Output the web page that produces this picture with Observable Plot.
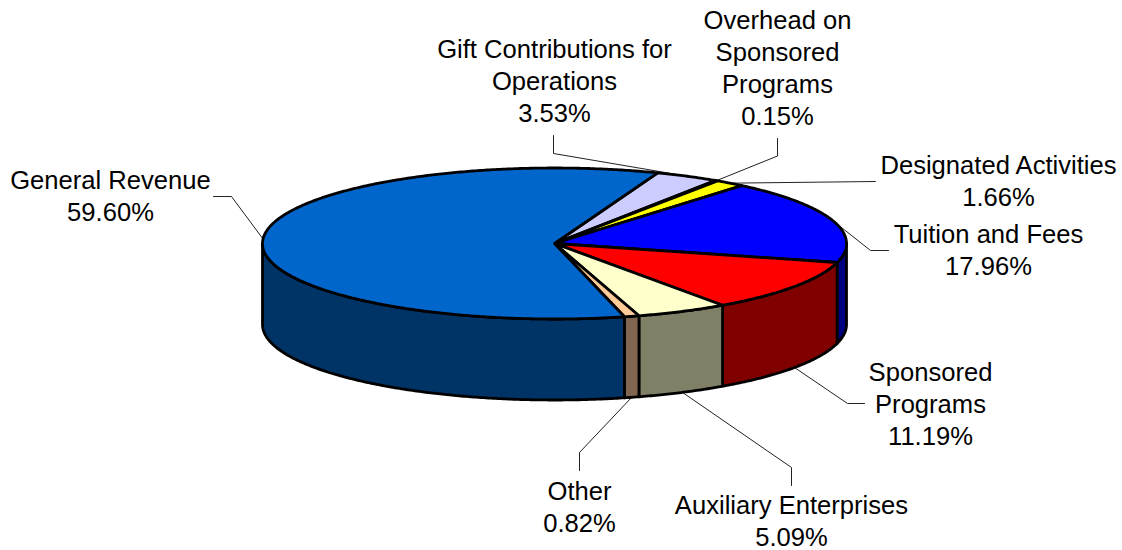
<!DOCTYPE html>
<html><head><meta charset="utf-8">
<script src="https://cdn.jsdelivr.net/npm/d3@7"></script>
<script src="https://cdn.jsdelivr.net/npm/@observablehq/plot@0.6"></script>
<style>html,body{margin:0;padding:0;background:#fff}svg{display:block}</style>
</head><body><div id="chart"></div>
<script>
// Data, clockwise from the first slice
const categories = ["Gift Contributions for\nOperations","Overhead on\nSponsored\nPrograms","Designated Activities","Tuition and Fees","Sponsored\nPrograms","Auxiliary Enterprises","Other","General Revenue"];
const shares = [3.53,0.15,1.66,17.96,11.19,5.09,0.82,59.60];
const topColors = ["#CCCCFF","#000000","#FFFF00","#0000FF","#FF0000","#FFFFCC","#FFCC99","#0066CC"];
const sideColors = ["#666680","#000000","#808000","#000080","#800000","#808066","#806650","#003366"];
// Label placement: label centre, then the leader's elbow and end
const labelCentres = [[554,79.5],[777,66.5],[998,179.5],[988,248.5],[930,402],[791,519.5],[579,505.5],[110,194.5]];
const elbows = [[553,153],[777,155.5],[875,181],[870,250],[847,403],[791,467],[579,452],[231,196]];
const leaderEnds = [[553,135],[777,138],[875,181],[888,250],[864,403],[791,485],[579,470],[213,196]];

const cx = 554, cy = 243, rx = 292, ry = 75.5, depth = 81, startDeg = -69.3;
const rad = d => d * Math.PI / 180;
const pt = (t, dz = 0) => [cx + rx * Math.cos(rad(t)), cy + ry * Math.sin(rad(t)) + dz];
const sweep = (a, b) => { // points along an arc from angle a to angle b
  const n = Math.max(2, Math.ceil(Math.abs(b - a) * 2));
  return d3.range(n + 1).map(i => a + (b - a) * i / n);
};

let acc = startDeg;
const slices = shares.map((v, i) => {
  const a0 = acc; acc += v * 3.6;
  return {i, a0, a1: acc, mid: (a0 + acc) / 2};
});

const tops = [], sides = [], leaders = [];
for (const s of slices) {
  const key = categories[s.i];
  const poly = [[cx, cy], ...sweep(s.a0, s.a1).map(t => pt(t)), [cx, cy]];
  poly.forEach(([x, y]) => tops.push({key, color: topColors[s.i], x, y}));
  const a = Math.max(s.a0, 0), b = Math.min(s.a1, 180);
  if (b > a) {
    const arc = sweep(a, b);
    const side = [...arc.map(t => pt(t)), ...arc.slice().reverse().map(t => pt(t, depth))];
    side.push(side[0]);
    side.forEach(([x, y]) => sides.push({key, color: sideColors[s.i], x, y}));
  }
  const front = s.mid > 20 && s.mid < 160;
  const start = pt(s.mid, front ? depth : 0);
  [start, elbows[s.i], leaderEnds[s.i]].forEach(([x, y]) => leaders.push({key, x, y}));
}

const labels = slices.map(s => ({
  text: categories[s.i] + "\n" + shares[s.i].toFixed(2) + "%",
  x: labelCentres[s.i][0], y: labelCentres[s.i][1]
}));

const chart = Plot.plot({
  width: 1122, height: 550,
  margin: 0,
  style: {background: "#fff"},
  x: {domain: [0, 1122], range: [0, 1122], axis: null},
  y: {domain: [0, 550], range: [0, 550], axis: null},
  color: {type: "identity"},
  marks: [
    Plot.line(leaders, {x: "x", y: "y", z: "key", stroke: "#222", strokeWidth: 1, curve: "linear"}),
    Plot.line(sides, {x: "x", y: "y", z: "key", fill: "color", stroke: "#000", strokeWidth: 2.8, strokeLinejoin: "round", curve: "linear"}),
    Plot.line(tops, {x: "x", y: "y", z: "key", fill: "color", stroke: "#000", strokeWidth: 2.8, strokeLinejoin: "round", curve: "linear"}),
    Plot.text(labels, {x: "x", y: "y", text: "text", fontFamily: "Liberation Sans", fontSize: 25.6, lineHeight: 1.25, fill: "#000", textAnchor: "middle", lineAnchor: "middle"})
  ]
});
document.getElementById("chart").appendChild(chart);
</script></body></html>
